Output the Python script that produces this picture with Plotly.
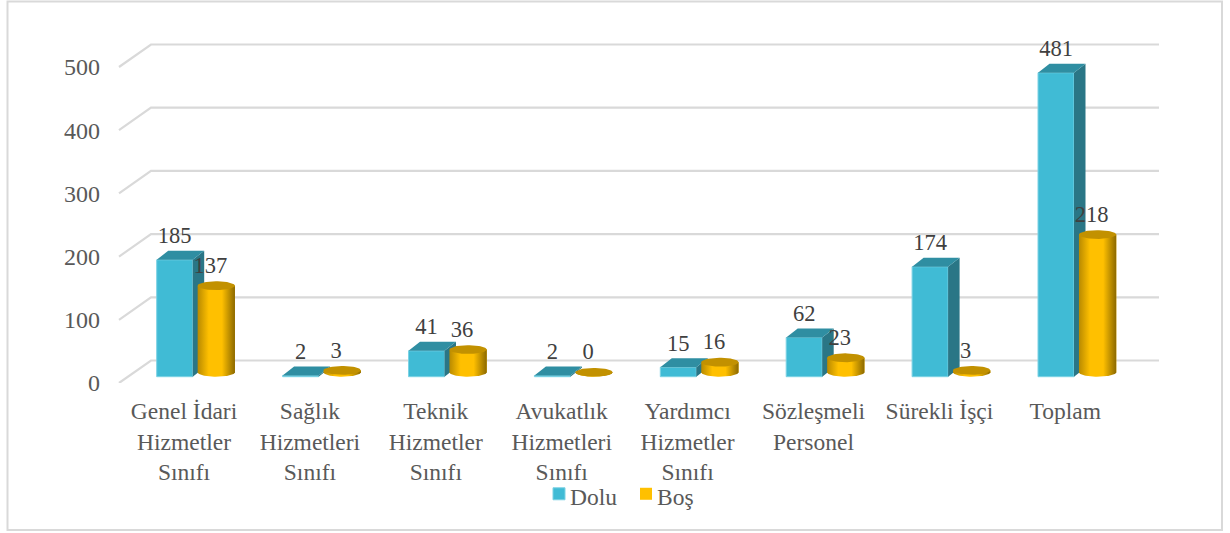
import numpy as np
import plotly.graph_objects as go

# --- data -------------------------------------------------------------
categories = ["Genel İdari<br>Hizmetler<br>Sınıfı", "Sağlık<br>Hizmetleri<br>Sınıfı",
              "Teknik<br>Hizmetler<br>Sınıfı", "Avukatlık<br>Hizmetleri<br>Sınıfı",
              "Yardımcı<br>Hizmetler<br>Sınıfı", "Sözleşmeli<br>Personel",
              "Sürekli İşçi", "Toplam"]
dolu = [185, 2, 41, 2, 15, 62, 174, 481]
bos = [137, 3, 36, 0, 16, 23, 3, 218]
y_ticks = [0, 100, 200, 300, 400, 500]

# --- layout constants (pixels) ----------------------------------------
W, H = 1230, 533
L, R, T, FLOOR = 101, 1170, 20, 383
CAT0, CAT_STEP, Y_SCALE = 184.0, 125.9, 0.632
px_x = lambda p: p / CAT_STEP
px_y = lambda p: p / Y_SCALE
xr = [(L - CAT0) / CAT_STEP, (R - CAT0) / CAT_STEP]
yr = [0, (FLOOR - T) / Y_SCALE]

idx = np.arange(len(categories))
d_off, d_w = px_x(-9.3), px_x(36)
b_off, b_w = px_x(32.3), px_x(37.3)
d_base, b_base = px_y(6.3), px_y(10.7)
depth_x, depth_y = px_x(11.5), px_y(9)
ry = px_y(4.4)

SERIF = "Liberation Serif"
C_FRONT, C_TOP, C_SIDE = "#40BBD5", "#2F8EA2", "#2A7686"
C_BOS, C_CAP = "#FFC000", "#C29100"
GRAD = [[0, "#B98A00"], [0.3, "#FFC000"], [0.65, "#FFC000"], [1, "#8C6900"]]

fig = go.Figure()

# front faces and legend keys
fig.add_bar(name="Dolu", x=idx + d_off, y=dolu, base=d_base, width=d_w,
            marker=dict(color=C_FRONT, line=dict(color="#7CD2E4", width=1)), hoverinfo="skip")
fig.add_bar(name="Boş", x=idx + b_off, y=bos, base=b_base, width=b_w,
            marker=dict(color=C_BOS, line=dict(width=0)), hoverinfo="skip")

# box top and side faces
tx, ty, sx, sy = [], [], [], []
for i, v in zip(idx, dolu):
    x0 = i + d_off - d_w / 2
    x1 = i + d_off + d_w / 2
    top = d_base + v
    tx += [x0, x1, x1 + depth_x, x0 + depth_x, x0, None]
    ty += [top, top, top + depth_y, top + depth_y, top, None]
    sx += [x1, x1 + depth_x, x1 + depth_x, x1, x1, None]
    sy += [d_base, d_base + depth_y, top + depth_y, top, d_base, None]
for xs, ys, c in ((sx, sy, C_SIDE), (tx, ty, C_TOP)):
    fig.add_scatter(x=xs, y=ys, mode="lines", fill="toself", fillcolor=c,
                    line=dict(width=0, color=c), showlegend=False, hoverinfo="skip")

# cylinders
theta = np.linspace(0, np.pi, 40)
for i, v in zip(idx, bos):
    cx = i + b_off
    rx = b_w / 2
    top = b_base + v
    xs = np.concatenate([cx - rx * np.cos(theta), cx + rx * np.cos(theta)])
    ys = np.concatenate([b_base - ry * np.sin(theta), top + 0 * theta])
    fig.add_scatter(x=xs, y=ys, mode="lines", fill="toself", line=dict(width=0),
                    fillgradient=dict(type="horizontal", colorscale=GRAD),
                    showlegend=False, hoverinfo="skip")
    t2 = np.linspace(0, 2 * np.pi, 60)
    fig.add_scatter(x=cx + rx * np.cos(t2), y=top + ry * np.sin(t2), mode="lines",
                    fill="toself", fillcolor=C_CAP, line=dict(width=0, color=C_CAP),
                    showlegend=False, hoverinfo="skip")

# data labels
fig.add_scatter(x=idx + d_off, y=np.array(dolu) + d_base + px_y(22), mode="text",
                text=[str(v) for v in dolu], textposition="middle center",
                textfont=dict(family=SERIF, size=22.5, color="#404040"),
                showlegend=False, hoverinfo="skip")
fig.add_scatter(x=idx + b_off - px_x(6), y=np.array(bos) + b_base + px_y(18.5), mode="text",
                text=[str(v) for v in bos], textposition="middle center",
                textfont=dict(family=SERIF, size=22.5, color="#404040"),
                showlegend=False, hoverinfo="skip")

# walls / floor grid
shapes = []
wall_x0 = (151 - CAT0) / CAT_STEP
wall_x1 = (1159 - CAT0) / CAT_STEP
front_x = (119 - CAT0) / CAT_STEP
back_dy = px_y(22.5)
for t in y_ticks:
    shapes.append(dict(type="path", xref="x", yref="y", layer="below",
                       path=f"M{front_x},{t} L{wall_x0},{t + back_dy} L{wall_x1},{t + back_dy}",
                       line=dict(color="#D9D9D9", width=2.2)))
# chart frame, pixel values converted to plot fractions
fx = lambda p: (p - L) / (R - L)
fy = lambda p: (FLOOR - p) / (FLOOR - T)
shapes.append(dict(type="rect", xref="paper", yref="paper", layer="below",
                   x0=fx(7.5), x1=fx(1222), y0=fy(530), y1=fy(1.5),
                   line=dict(color="#D9D9D9", width=2)))

fig.update_layout(
    template="none",
    width=W, height=H, margin=dict(l=L, r=W - R, t=T, b=H - FLOOR, pad=0, autoexpand=False),
    paper_bgcolor="white", plot_bgcolor="rgba(0,0,0,0)", barmode="overlay",
    shapes=shapes, showlegend=True,
    font=dict(family=SERIF),
    legend=dict(orientation="h", xref="container", yref="container",
                x=547 / W, xanchor="left", y=1 - 472 / H, yanchor="top",
                indentation=-8, entrywidth=50, entrywidthmode="pixels",
                font=dict(family=SERIF, size=23.5, color="#595959"),
                bgcolor="rgba(0,0,0,0)", itemclick=False, itemdoubleclick=False),
    xaxis=dict(range=xr, tickmode="array", tickvals=idx, ticktext=categories,
               showgrid=False, zeroline=False, showline=False, ticks="outside",
               ticklen=7, tickcolor="rgba(0,0,0,0)", tickangle=0, automargin=False,
               tickfont=dict(family=SERIF, size=23.5, color="#595959")),
    yaxis=dict(range=yr, tickmode="array", tickvals=y_ticks, ticktext=[str(t) for t in y_ticks],
               showgrid=False, zeroline=False, showline=False, ticks="", automargin=False,
               tickfont=dict(family=SERIF, size=24, color="#595959")),
)
fig.write_html(
    "out.html",
    post_script=("document.body.style.margin='0';"
                 "document.querySelectorAll('.legendtext').forEach("
                 "t=>t.setAttribute('transform','translate(-9,2.5)'));"),
    config=dict(displayModeBar=False),
)
